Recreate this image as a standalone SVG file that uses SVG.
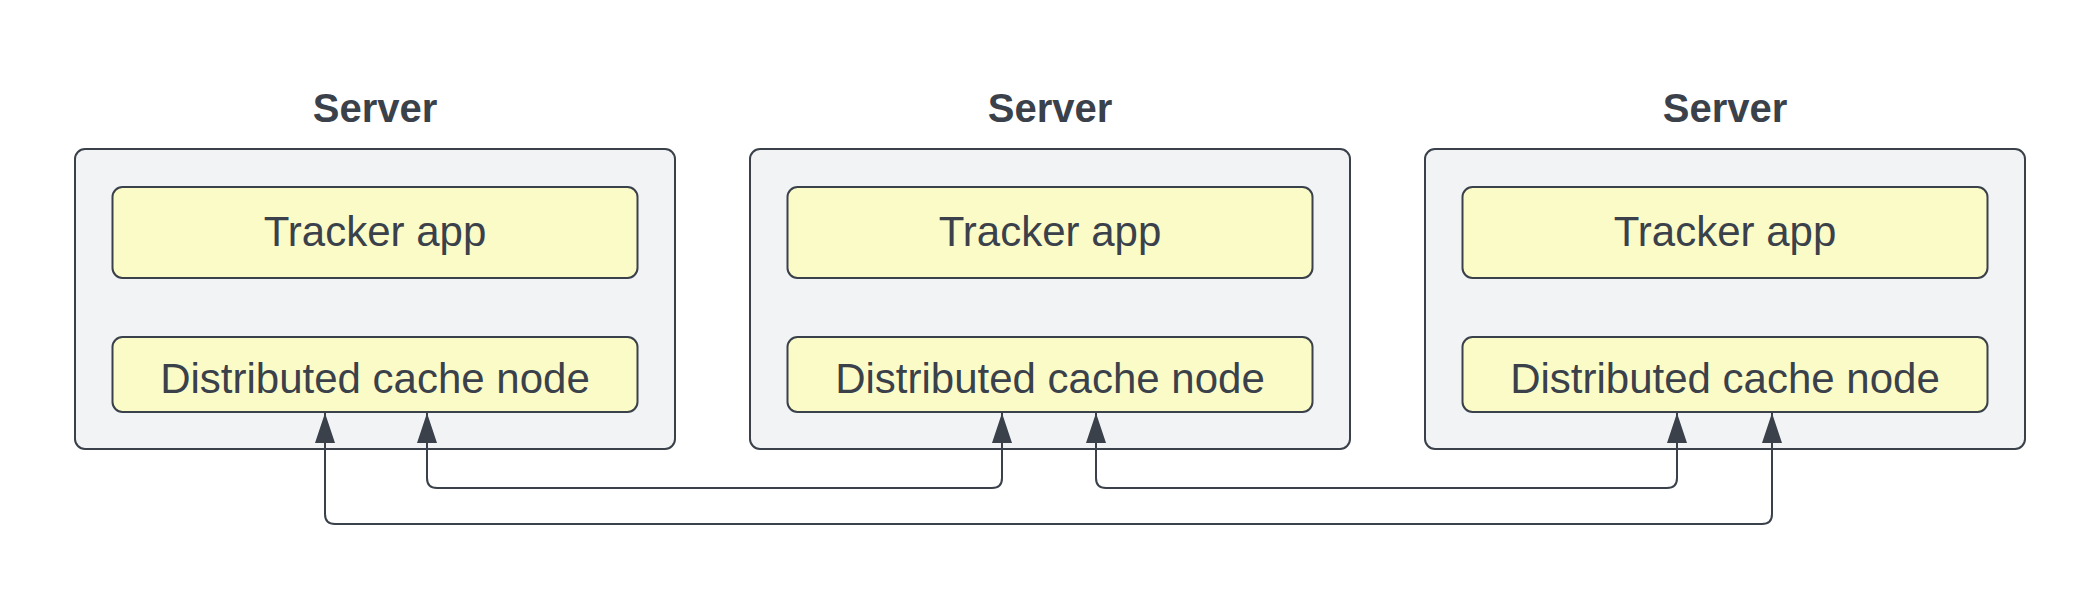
<svg xmlns="http://www.w3.org/2000/svg" width="2100" height="600" viewBox="0 0 2100 600">
  <style>
    .server { fill: #f2f3f5; stroke: #3a414a; stroke-width: 2; }
    .comp { fill: #fbfbc8; stroke: #3a414a; stroke-width: 2; }
    .title { font-family: "Liberation Sans", Arial, sans-serif; font-weight: bold; font-size: 40px; fill: #3a414a; text-anchor: middle; }
    .label { font-family: "Liberation Sans", Arial, sans-serif; font-size: 42px; fill: #3a414a; text-anchor: middle; }
    .conn { fill: none; stroke: #3a414a; stroke-width: 2; }
  </style>
  <defs>
    <marker id="arrow" markerUnits="userSpaceOnUse" markerWidth="30" markerHeight="20" refX="30" refY="10" orient="auto-start-reverse" viewBox="0 0 30 20">
      <path d="M0,0 L30,10 L0,20 z" fill="#3a414a"/>
    </marker>
  </defs>
  <rect width="2100" height="600" fill="#ffffff"/>

  <g id="server1">
    <text class="title" x="375" y="122">Server</text>
    <rect class="server" x="75" y="149" width="600" height="300" rx="10"/>
    <g id="tracker1">
      <rect class="comp" x="112.5" y="187" width="525" height="91" rx="10"/>
      <text class="label" x="375" y="246">Tracker app</text>
    </g>
    <g id="cache1">
      <rect class="comp" x="112.5" y="337" width="525" height="75" rx="10"/>
      <text class="label" x="375" y="393">Distributed cache node</text>
    </g>
  </g>

  <g id="server2">
    <text class="title" x="1050" y="122">Server</text>
    <rect class="server" x="750" y="149" width="600" height="300" rx="10"/>
    <g id="tracker2">
      <rect class="comp" x="787.5" y="187" width="525" height="91" rx="10"/>
      <text class="label" x="1050" y="246">Tracker app</text>
    </g>
    <g id="cache2">
      <rect class="comp" x="787.5" y="337" width="525" height="75" rx="10"/>
      <text class="label" x="1050" y="393">Distributed cache node</text>
    </g>
  </g>

  <g id="server3">
    <text class="title" x="1725" y="122">Server</text>
    <rect class="server" x="1425" y="149" width="600" height="300" rx="10"/>
    <g id="tracker3">
      <rect class="comp" x="1462.5" y="187" width="525" height="91" rx="10"/>
      <text class="label" x="1725" y="246">Tracker app</text>
    </g>
    <g id="cache3">
      <rect class="comp" x="1462.5" y="337" width="525" height="75" rx="10"/>
      <text class="label" x="1725" y="393">Distributed cache node</text>
    </g>
  </g>

  <g id="connectors">
    <path class="conn" marker-start="url(#arrow)" marker-end="url(#arrow)" d="M427,413 V478 Q427,488 437,488 H992 Q1002,488 1002,478 V413"/>
    <path class="conn" marker-start="url(#arrow)" marker-end="url(#arrow)" d="M1096,413 V478 Q1096,488 1106,488 H1667 Q1677,488 1677,478 V413"/>
    <path class="conn" marker-start="url(#arrow)" marker-end="url(#arrow)" d="M325,413 V514 Q325,524 335,524 H1762 Q1772,524 1772,514 V413"/>
  </g>
</svg>
